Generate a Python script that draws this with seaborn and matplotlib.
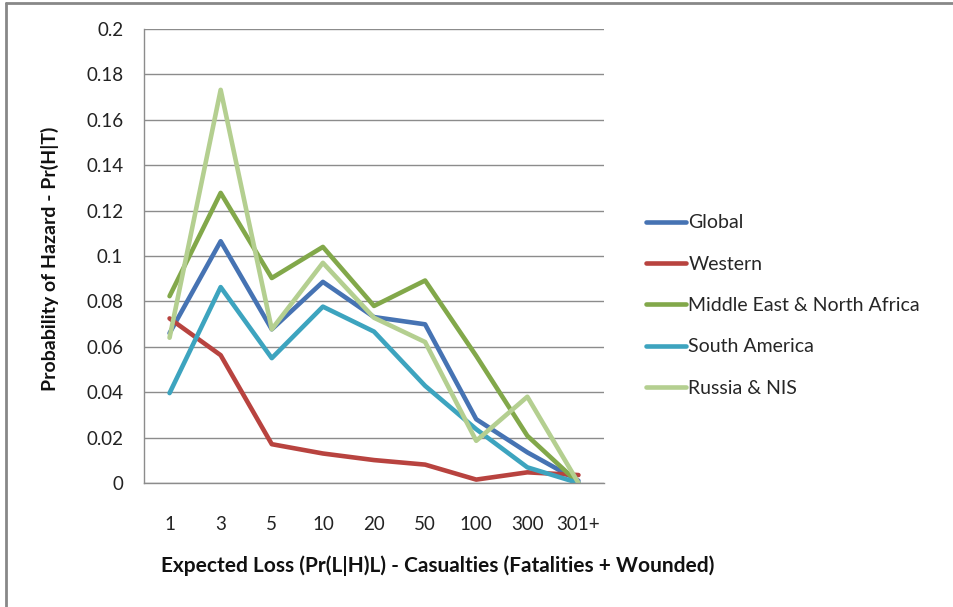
import numpy as np
import pandas as pd
import matplotlib
matplotlib.use('Agg')
import matplotlib.pyplot as plt
from matplotlib.lines import Line2D
import seaborn as sns

# expected loss categories (casualties)
categories = ['1', '3', '5', '10', '20', '50', '100', '300', '301+']

glob = [0.066, 0.1065, 0.0677, 0.0886, 0.0731, 0.0699, 0.0281, 0.0135, 0.001]
western = [0.0725, 0.0563, 0.0171, 0.013, 0.0101, 0.0081, 0.0015, 0.0047, 0.0035]
mena = [0.0823, 0.1278, 0.0903, 0.104, 0.078, 0.0892, 0.056, 0.0208, 0.0]
south_america = [0.0396, 0.0863, 0.055, 0.0777, 0.0667, 0.0428, 0.0237, 0.0069, 0.0]
russia = [0.064, 0.1732, 0.0677, 0.097, 0.0728, 0.0621, 0.0186, 0.038, 0.0]

series_names = ['Global', 'Western', 'Middle East & North Africa', 'South America', 'Russia & NIS']
series_vals = [glob, western, mena, south_america, russia]
colors = ['#4673B3', '#B8433F', '#82A84A', '#3DA4BF', '#B4CF90']

rows = []
for name, vals in zip(series_names, series_vals):
    for c, v in zip(categories, vals):
        rows.append({'Loss': c, 'Prob': v, 'Region': name})
df = pd.DataFrame(rows)

sns.set_style('white')
plt.rcParams['font.family'] = ['Lato', 'DejaVu Sans']

fig = plt.figure(figsize=(9.54, 6.07), dpi=100)
ax = fig.add_axes([144 / 954, 1 - 483 / 607, (604 - 144) / 954, (483 - 29) / 607])

sns.lineplot(data=df, x='Loss', y='Prob', hue='Region', palette=colors,
             sort=False, linewidth=3.3, ax=ax, legend=False)
ax.set_xlabel('')
ax.set_ylabel('')

ax.set_xlim(-0.5, len(categories) - 0.5)
ax.set_ylim(0, 0.2)
ax.set_yticks(np.arange(0, 0.201, 0.02))
ax.set_yticklabels(['0'] + ['%g' % round(v, 2) for v in np.arange(0.02, 0.201, 0.02)])
ax.set_xticks(range(len(categories)))
ax.set_xticklabels(categories)
ax.set_xticks(np.arange(-0.5, len(categories), 1), minor=True)
ax.tick_params(axis='x', which='major', length=0, pad=24, labelsize=13.5, colors='#222222')
ax.tick_params(axis='x', which='minor', length=8, width=1, color='#888888')
ax.tick_params(axis='y', length=8, width=1, color='#888888', pad=7, labelsize=13.5, labelcolor='#222222')

ax.grid(True, axis='y', color='#8c8c8c', linewidth=1)
ax.set_axisbelow(True)
for s in ['top', 'right']:
    ax.spines[s].set_visible(False)
for s in ['left', 'bottom']:
    ax.spines[s].set_color('#8c8c8c')
    ax.spines[s].set_linewidth(1)

fig.text(438 / 954, 1 - 566 / 607, 'Expected Loss (Pr(L|H)L) - Casualties (Fatalities + Wounded)',
         fontsize=15, fontweight='bold', color='#111111', ha='center', va='center')
fig.text(50 / 954, 1 - 259 / 607, 'Probability of Hazard - Pr(H|T)', fontsize=14,
         fontweight='bold', color='#111111', ha='center', va='center', rotation=90)

handles = [Line2D([0], [0], color=c, linewidth=3.3) for c in colors]
fig.legend(handles, series_names, loc='upper left', bbox_to_anchor=(628 / 954, 1 - 197 / 607),
           frameon=False, fontsize=14, handlelength=2.1, handletextpad=0.1,
           labelspacing=1.25)

# chart border (top and left)
fig.add_artist(Line2D([6 / 954, 6 / 954], [0, 1 - 3 / 607], color='#888888', linewidth=2))
fig.add_artist(Line2D([6 / 954, 1], [1 - 3 / 607, 1 - 3 / 607], color='#888888', linewidth=2))

fig.savefig('out.png', dpi=100, facecolor='white')
